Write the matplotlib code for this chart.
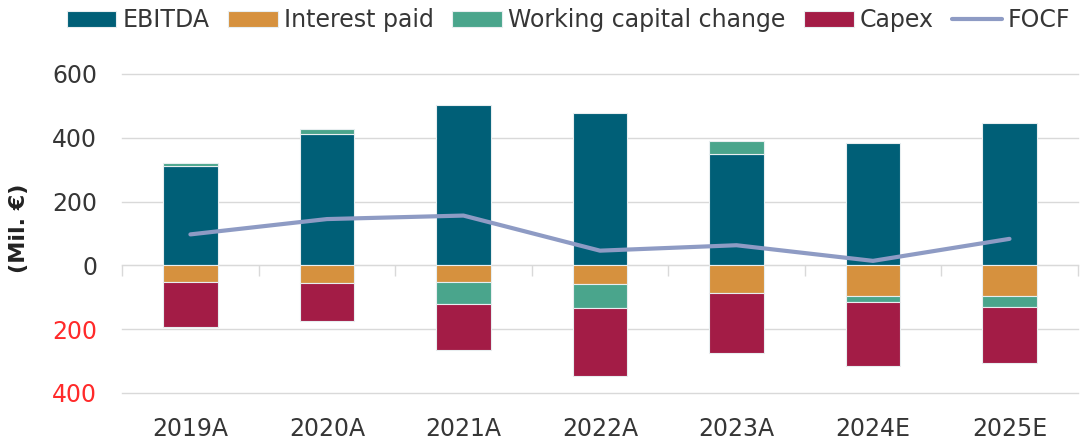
import matplotlib.pyplot as plt
import numpy as np

# data (Mil. EUR)
years = ["2019A", "2020A", "2021A", "2022A", "2023A", "2024E", "2025E"]
ebitda = [311, 412, 502, 477, 349, 385, 445]
interest_paid = [-53, -54, -51, -59, -87, -95, -95]
wc_change = [10, 15, -70, -75, 42, -21, -35]
capex = [-140, -120, -144, -214, -189, -200, -175]
focf = [97, 145, 156, 46, 63, 14, 83]
y_ticks = [-400, -200, 0, 200, 400, 600]

colors = {
    "EBITDA": "#005f77",
    "Interest paid": "#d6913e",
    "Working capital change": "#4aa58c",
    "Capex": "#a31c46",
}
focf_color = "#8e9bc4"
text_color = "#363636"

plt.rcParams['font.family'] = ['DejaVu Sans']

fig = plt.figure(figsize=(10.81, 4.44), dpi=100)
ax = fig.add_axes([0.113, 0.115, 0.884, 0.7185])

x = np.arange(len(years))
pos_base = np.zeros(len(years))
neg_base = np.zeros(len(years))
series = [("EBITDA", ebitda), ("Interest paid", interest_paid),
          ("Working capital change", wc_change), ("Capex", capex)]
handles = []
for name, vals in series:
    vals = np.array(vals, dtype=float)
    # positives stack upward, negatives stack downward
    bottoms = np.where(vals >= 0, pos_base, neg_base)
    b = ax.bar(x, vals, width=0.4, bottom=bottoms, color=colors[name],
               edgecolor="#e8eef0", linewidth=0.8, label=name, zorder=3)
    handles.append(b)
    pos_base = pos_base + np.where(vals >= 0, vals, 0)
    neg_base = neg_base + np.where(vals < 0, vals, 0)

line, = ax.plot(x, focf, color=focf_color, lw=3, label="FOCF", zorder=4,
                solid_capstyle="round")
handles.append(line)

ax.set_xlim(-0.5, len(years) - 0.5)
ax.set_ylim(-400, 600)
ax.set_yticks(y_ticks)
ax.set_yticklabels([str(abs(v)) for v in y_ticks])
for lab, v in zip(ax.get_yticklabels(), y_ticks):
    lab.set_color("#ff2a2a" if v < 0 else text_color)
ax.tick_params(axis="y", length=0, labelsize=17, pad=18)
ax.grid(axis="y", color="#d9d9d9", lw=1, zorder=0)
for gl in ax.get_ygridlines():
    gl.set_clip_on(False)

# x axis sits at zero, ticks between categories
for s in ["top", "right", "left"]:
    ax.spines[s].set_visible(False)
ax.spines["bottom"].set_position(("data", 0))
ax.spines["bottom"].set_color("#d9d9d9")
ax.set_xticks(np.arange(-0.5, len(years)))
ax.set_xticklabels([])
ax.tick_params(axis="x", length=8, color="#d9d9d9", width=1)
for i, yr in enumerate(years):
    ax.text(i, -0.075, yr, transform=ax.get_xaxis_transform(), ha="center",
            va="top", fontsize=17, color=text_color)

ax.set_ylabel("(Mil. €)", fontsize=16, fontweight="bold", color="#222222")
ax.yaxis.set_label_coords(-0.098, 0.516)

fig.legend(handles=handles, labels=[h.get_label() for h in handles],
           loc="center", bbox_to_anchor=(0.526, 0.955), ncol=5,
           frameon=False, fontsize=17, handlelength=2.1, handleheight=0.65,
           columnspacing=0.8, handletextpad=0.25, labelcolor=text_color)

fig.savefig("out.png", dpi=100)
